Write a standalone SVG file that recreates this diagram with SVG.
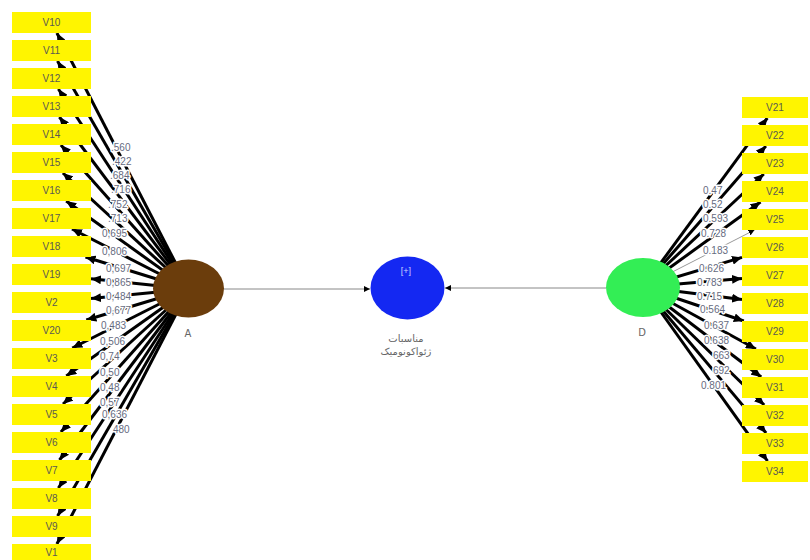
<svg xmlns="http://www.w3.org/2000/svg" width="810" height="560" viewBox="0 0 810 560">
<style>
.box{fill:#fff500;}
.bt{font-family:"Liberation Sans",Arial,sans-serif;font-size:10px;fill:#5a5a50;text-anchor:middle;}
.ld{stroke:#000;stroke-width:3;fill:none;}
.st{stroke:#888;stroke-width:1;fill:none;}
.lb{font-family:"Liberation Sans",Arial,sans-serif;font-size:10px;fill:#666b80;stroke:#fff;stroke-width:3px;paint-order:stroke;stroke-linejoin:round;}
.nl{font-family:"DejaVu Sans","Liberation Sans",sans-serif;font-size:10px;fill:#666;text-anchor:middle;}
</style>
<defs>
<marker id="ah" markerUnits="userSpaceOnUse" markerWidth="11" markerHeight="9" refX="10" refY="4.5" orient="auto"><path d="M0,0 L10,4.5 L0,9 z" fill="#000"/></marker>
<marker id="sa" markerUnits="userSpaceOnUse" markerWidth="8" markerHeight="6" refX="6" refY="3" orient="auto"><path d="M0,0 L6,3 L0,6 z" fill="#000"/></marker>
</defs>
<rect width="810" height="560" fill="#fff"/>
<g id="connectors">
<g id="loadings-A">
<line class="ld" x1="189" y1="289" x2="56.9" y2="33" marker-end="url(#ah)"/>
<line class="ld" x1="189" y1="289" x2="57.5" y2="61" marker-end="url(#ah)"/>
<line class="ld" x1="189" y1="289" x2="58.4" y2="89" marker-end="url(#ah)"/>
<line class="ld" x1="189" y1="289" x2="59.4" y2="117" marker-end="url(#ah)"/>
<line class="ld" x1="189" y1="289" x2="60.9" y2="145" marker-end="url(#ah)"/>
<line class="ld" x1="189" y1="289" x2="62.9" y2="173" marker-end="url(#ah)"/>
<line class="ld" x1="189" y1="289" x2="66.2" y2="201" marker-end="url(#ah)"/>
<line class="ld" x1="189" y1="289" x2="72" y2="229" marker-end="url(#ah)"/>
<line class="ld" x1="189" y1="289" x2="85.5" y2="257" marker-end="url(#ah)"/>
<line class="ld" x1="189" y1="289" x2="91" y2="278.7" marker-end="url(#ah)"/>
<line class="ld" x1="189" y1="289" x2="91" y2="298.6" marker-end="url(#ah)"/>
<line class="ld" x1="189" y1="289" x2="86.3" y2="320" marker-end="url(#ah)"/>
<line class="ld" x1="189" y1="289" x2="72.3" y2="348" marker-end="url(#ah)"/>
<line class="ld" x1="189" y1="289" x2="66.3" y2="376" marker-end="url(#ah)"/>
<line class="ld" x1="189" y1="289" x2="63" y2="404" marker-end="url(#ah)"/>
<line class="ld" x1="189" y1="289" x2="60.9" y2="432" marker-end="url(#ah)"/>
<line class="ld" x1="189" y1="289" x2="59.5" y2="460" marker-end="url(#ah)"/>
<line class="ld" x1="189" y1="289" x2="58.4" y2="488" marker-end="url(#ah)"/>
<line class="ld" x1="189" y1="289" x2="57.6" y2="516" marker-end="url(#ah)"/>
<line class="ld" x1="189" y1="289" x2="56.9" y2="544" marker-end="url(#ah)"/>
</g>
<g id="loadings-D">
<line class="ld" x1="643" y1="287" x2="767.3" y2="118" marker-end="url(#ah)"/>
<line class="ld" x1="643" y1="287" x2="765.9" y2="146" marker-end="url(#ah)"/>
<line class="ld" x1="643" y1="287" x2="763.8" y2="174" marker-end="url(#ah)"/>
<line class="ld" x1="643" y1="287" x2="760.5" y2="202" marker-end="url(#ah)"/>
<line stroke="#999" stroke-width="1" x1="643" y1="287" x2="754.5" y2="230" marker-end="url(#sa)"/>
<line class="ld" x1="643" y1="287" x2="742" y2="257.4" marker-end="url(#ah)"/>
<line class="ld" x1="643" y1="287" x2="742" y2="278.4" marker-end="url(#ah)"/>
<line class="ld" x1="643" y1="287" x2="742" y2="299.4" marker-end="url(#ah)"/>
<line class="ld" x1="643" y1="287" x2="743.8" y2="321" marker-end="url(#ah)"/>
<line class="ld" x1="643" y1="287" x2="755.9" y2="349" marker-end="url(#ah)"/>
<line class="ld" x1="643" y1="287" x2="761.2" y2="377" marker-end="url(#ah)"/>
<line class="ld" x1="643" y1="287" x2="764.2" y2="405" marker-end="url(#ah)"/>
<line class="ld" x1="643" y1="287" x2="766.1" y2="433" marker-end="url(#ah)"/>
<line class="ld" x1="643" y1="287" x2="767.5" y2="461" marker-end="url(#ah)"/>
</g>
<g id="paths">
<line class="st" x1="224" y1="289" x2="370" y2="289" marker-end="url(#sa)"/>
<line class="st" x1="606" y1="288" x2="445" y2="288" marker-end="url(#sa)"/>
</g>
<g id="labels-A" class="lb">
<text x="111" y="150.5">.560</text>
<text x="112" y="164.5">.422</text>
<text x="110" y="178.5">.684</text>
<text x="111" y="192.5">.716</text>
<text x="108" y="207.5">.752</text>
<text x="108" y="221.5">.713</text>
<text x="102" y="236.5">0,695</text>
<text x="102" y="254.5">0,806</text>
<text x="106" y="271.5">0,697</text>
<text x="106" y="285.5">0,865</text>
<text x="106" y="299.5">0,484</text>
<text x="106" y="313.5">0,677</text>
<text x="101" y="328.5">0,483</text>
<text x="100" y="344.5">0,506</text>
<text x="100" y="359.5">0,74</text>
<text x="100" y="375.5">0,50</text>
<text x="100" y="390.5">0,48</text>
<text x="100" y="405.5">0,57</text>
<text x="102" y="417.5">0,636</text>
<text x="113" y="432.5">480</text>
</g>
<g id="labels-D" class="lb">
<text x="703" y="193.5">0.47</text>
<text x="703" y="207.5">0.52</text>
<text x="703" y="221.5">0.593</text>
<text x="701" y="236.5">0.728</text>
<text x="703" y="253.5">0.183</text>
<text x="699" y="271.5">0.626</text>
<text x="697" y="285.5">0.783</text>
<text x="697" y="299.5">0.715</text>
<text x="700" y="312.5">0.564</text>
<text x="704" y="328.5">0.637</text>
<text x="704" y="343.5">0.638</text>
<text x="713" y="358.5">663</text>
<text x="713" y="373.5">692</text>
<text x="701" y="388.5">0.801</text>
</g>
</g>
<g id="node-A"><ellipse cx="188.5" cy="288.5" rx="35.5" ry="29" fill="#6b3d0c"/><text class="nl" x="188" y="337">A</text></g>
<g id="node-M"><ellipse cx="407.5" cy="288" rx="37" ry="31.5" fill="#1428f2"/><text x="406" y="274" font-family="Liberation Sans,Arial,sans-serif" font-size="9" fill="#c8d0ff" text-anchor="middle">[+]</text><text class="nl" x="406" y="342">مناسبات</text><text class="nl" x="406" y="355">ژئواکونومیک</text></g>
<g id="node-D"><ellipse cx="643" cy="287.5" rx="37" ry="29.5" fill="#33ee55"/><text class="nl" x="642" y="336">D</text></g>
<g id="node-V10"><rect class="box" x="12" y="12" width="79" height="21"/><text class="bt" x="51.5" y="26">V10</text></g>
<g id="node-V11"><rect class="box" x="12" y="40" width="79" height="21"/><text class="bt" x="51.5" y="54">V11</text></g>
<g id="node-V12"><rect class="box" x="12" y="68" width="79" height="21"/><text class="bt" x="51.5" y="82">V12</text></g>
<g id="node-V13"><rect class="box" x="12" y="96" width="79" height="21"/><text class="bt" x="51.5" y="110">V13</text></g>
<g id="node-V14"><rect class="box" x="12" y="124" width="79" height="21"/><text class="bt" x="51.5" y="138">V14</text></g>
<g id="node-V15"><rect class="box" x="12" y="152" width="79" height="21"/><text class="bt" x="51.5" y="166">V15</text></g>
<g id="node-V16"><rect class="box" x="12" y="180" width="79" height="21"/><text class="bt" x="51.5" y="194">V16</text></g>
<g id="node-V17"><rect class="box" x="12" y="208" width="79" height="21"/><text class="bt" x="51.5" y="222">V17</text></g>
<g id="node-V18"><rect class="box" x="12" y="236" width="79" height="21"/><text class="bt" x="51.5" y="250">V18</text></g>
<g id="node-V19"><rect class="box" x="12" y="264" width="79" height="21"/><text class="bt" x="51.5" y="278">V19</text></g>
<g id="node-V2"><rect class="box" x="12" y="292" width="79" height="21"/><text class="bt" x="51.5" y="306">V2</text></g>
<g id="node-V20"><rect class="box" x="12" y="320" width="79" height="21"/><text class="bt" x="51.5" y="334">V20</text></g>
<g id="node-V3"><rect class="box" x="12" y="348" width="79" height="21"/><text class="bt" x="51.5" y="362">V3</text></g>
<g id="node-V4"><rect class="box" x="12" y="376" width="79" height="21"/><text class="bt" x="51.5" y="390">V4</text></g>
<g id="node-V5"><rect class="box" x="12" y="404" width="79" height="21"/><text class="bt" x="51.5" y="418">V5</text></g>
<g id="node-V6"><rect class="box" x="12" y="432" width="79" height="21"/><text class="bt" x="51.5" y="446">V6</text></g>
<g id="node-V7"><rect class="box" x="12" y="460" width="79" height="21"/><text class="bt" x="51.5" y="474">V7</text></g>
<g id="node-V8"><rect class="box" x="12" y="488" width="79" height="21"/><text class="bt" x="51.5" y="502">V8</text></g>
<g id="node-V9"><rect class="box" x="12" y="516" width="79" height="21"/><text class="bt" x="51.5" y="530">V9</text></g>
<g id="node-V1"><rect class="box" x="12" y="544" width="79" height="21"/><text class="bt" x="51.5" y="556">V1</text></g>
<g id="node-V21"><rect class="box" x="742" y="97" width="66" height="21"/><text class="bt" x="775" y="111">V21</text></g>
<g id="node-V22"><rect class="box" x="742" y="125" width="66" height="21"/><text class="bt" x="775" y="139">V22</text></g>
<g id="node-V23"><rect class="box" x="742" y="153" width="66" height="21"/><text class="bt" x="775" y="167">V23</text></g>
<g id="node-V24"><rect class="box" x="742" y="181" width="66" height="21"/><text class="bt" x="775" y="195">V24</text></g>
<g id="node-V25"><rect class="box" x="742" y="209" width="66" height="21"/><text class="bt" x="775" y="223">V25</text></g>
<g id="node-V26"><rect class="box" x="742" y="237" width="66" height="21"/><text class="bt" x="775" y="251">V26</text></g>
<g id="node-V27"><rect class="box" x="742" y="265" width="66" height="21"/><text class="bt" x="775" y="279">V27</text></g>
<g id="node-V28"><rect class="box" x="742" y="293" width="66" height="21"/><text class="bt" x="775" y="307">V28</text></g>
<g id="node-V29"><rect class="box" x="742" y="321" width="66" height="21"/><text class="bt" x="775" y="335">V29</text></g>
<g id="node-V30"><rect class="box" x="742" y="349" width="66" height="21"/><text class="bt" x="775" y="363">V30</text></g>
<g id="node-V31"><rect class="box" x="742" y="377" width="66" height="21"/><text class="bt" x="775" y="391">V31</text></g>
<g id="node-V32"><rect class="box" x="742" y="405" width="66" height="21"/><text class="bt" x="775" y="419">V32</text></g>
<g id="node-V33"><rect class="box" x="742" y="433" width="66" height="21"/><text class="bt" x="775" y="447">V33</text></g>
<g id="node-V34"><rect class="box" x="742" y="461" width="66" height="21"/><text class="bt" x="775" y="475">V34</text></g>
</svg>
